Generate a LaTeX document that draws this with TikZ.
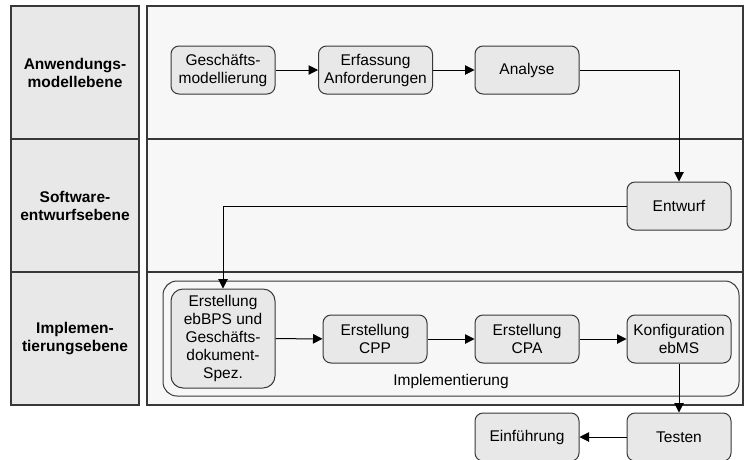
\documentclass[tikz,border=0pt]{standalone}
\usepackage{fontspec}
\setmainfont{Liberation Sans}
\usepackage{tikz}
\usetikzlibrary{arrows.meta}
\definecolor{lanegray}{HTML}{E8E8E8}
\definecolor{bodygray}{HTML}{F7F7F7}
\definecolor{taskgray}{HTML}{E8E8E8}
\definecolor{edgegray}{HTML}{383838}
\tikzstyle{lanehead}=[draw=edgegray,line width=1.3pt,fill=lanegray,minimum width=128pt,minimum height=133pt,align=center,font=\fsz\bfseries]
\tikzstyle{lanebody}=[draw=edgegray,line width=1.3pt,fill=bodygray]
\tikzstyle{task}=[draw=edgegray,line width=1pt,fill=taskgray,rounded corners=8pt,minimum width=104pt,minimum height=48pt,align=center,inner sep=1pt,font=\fsz]
\tikzstyle{flow}=[draw=black,line width=1pt,-{Triangle[length=9.5pt,width=9.5pt]}]
\newcommand{\fsz}{\fontsize{15.5}{18}\selectfont}

\begin{document}
\begin{tikzpicture}[x=1pt,y=-1pt]
    \useasboundingbox (0,0) rectangle (744,459);
    % lanes
    \node[lanehead] (hdanw) at (75,72.5) {Anwendungs-\\modellebene};
    \node[lanehead] (hdsw) at (75,205.5) {Software-\\entwurfsebene};
    \node[lanehead] (hdimp) at (75,338.5) {Implemen-\\tierungsebene};
    \draw[lanebody] (147,6) rectangle (743,139);
    \draw[lanebody] (147,139) rectangle (743,272);
    \draw[lanebody] (147,272) rectangle (743,405);
    % group
    \draw[draw=edgegray,line width=1pt,fill=bodygray,rounded corners=14pt] (163,281) rectangle (739,396);
    \node[font=\fsz] (implab) at (451,381) {Implementierung};
    % tasks
    \node[task] (gesch) at (223,70) {Gesch\"afts-\\modellierung};
    \node[task,minimum width=114pt] (erf) at (375.5,70) {Erfassung\\Anforderungen};
    \node[task] (ana) at (527,70) {Analyse};
    \node[task] (ent) at (679,206) {Entwurf};
    \node[task,minimum height=99pt,rounded corners=12pt] (ebbps) at (223,338.5) {Erstellung\\ebBPS und\\Gesch\"afts-\\dokument-\\Spez.};
    \node[task] (cpp) at (375,339) {Erstellung\\CPP};
    \node[task] (cpa) at (527,339) {Erstellung\\CPA};
    \node[task] (konf) at (679,339) {Konfiguration\\ebMS};
    \node[task] (test) at (679,437) {Testen};
    \node[task] (einf) at (527,437) {Einf\"uhrung};
    % flows
    \draw[flow] (gesch) -- (erf);
    \draw[flow] (erf) -- (ana);
    \draw[flow] (ana.east) -| (ent.north);
    \draw[flow] (ent.west) -| (ebbps.north);
    \draw[flow] (ebbps) -- (cpp);
    \draw[flow] (cpp) -- (cpa);
    \draw[flow] (cpa) -- (konf);
    \draw[flow] (konf) -- (test);
    \draw[flow] (test) -- (einf);
\end{tikzpicture}
\end{document}
